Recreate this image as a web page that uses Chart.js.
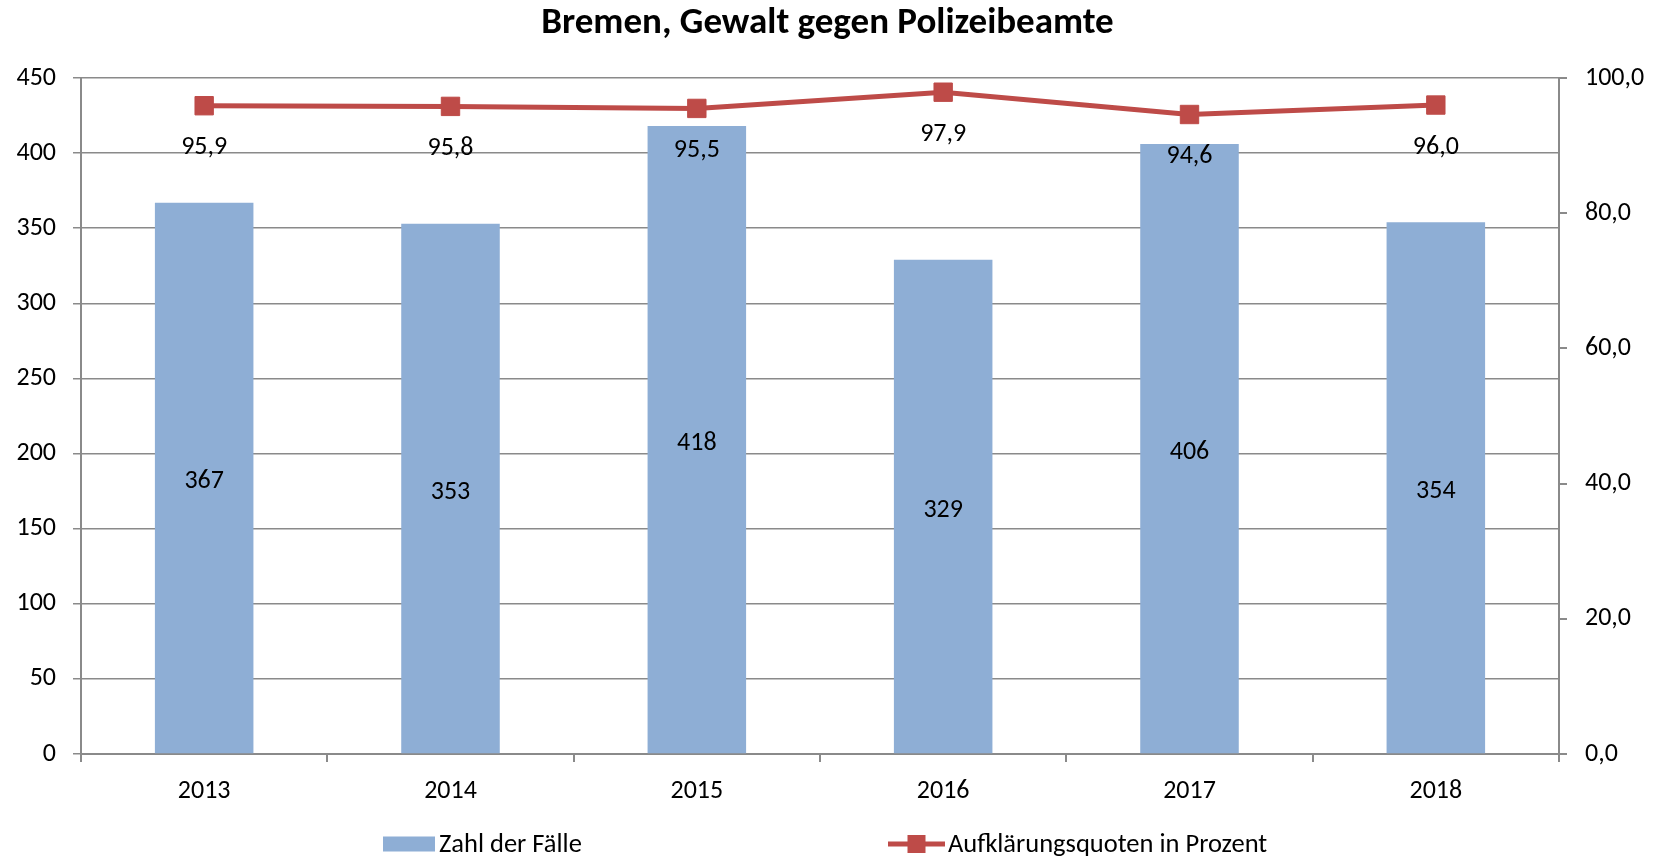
<!DOCTYPE html>
<html>
<head>
<meta charset="utf-8">
<script src="https://cdn.jsdelivr.net/npm/chart.js@4.4.1/dist/chart.umd.min.js"></script>
<style>
  html, body { margin: 0; padding: 0; background: #fff; }
  #wrap { width: 1655px; height: 858px; }
</style>
</head>
<body>
<div id="wrap"><canvas id="chart"></canvas></div>
<script>
// Data
const years = ['2013', '2014', '2015', '2016', '2017', '2018'];
const cases = [367, 353, 418, 329, 406, 354];
const clearanceRate = [95.9, 95.8, 95.5, 97.9, 94.6, 96.0];
const caseLabel = 'Zahl der Fälle';
const rateLabel = 'Aufklärungsquoten in Prozent';

// Styling
const fontFamily = "Carlito, Lato, 'Open Sans', sans-serif";
const fontSize = 26;
const barColor = '#8EAED5';
const lineColor = '#BE4B48';
const gridColor = '#8A8A8A';
const textColor = '#000000';

const deComma = (v, d) => v.toFixed(d).replace('.', ',');

// Value labels: in the middle of bars, below the line points
const valueLabels = {
    id: 'valueLabels',
    afterDatasetsDraw(chart) {
        const ctx = chart.ctx;
        ctx.save();
        ctx.font = fontSize + 'px ' + fontFamily;
        ctx.fillStyle = textColor;
        ctx.textAlign = 'center';
        ctx.textBaseline = 'middle';
        chart.data.datasets.forEach((ds, i) => {
            const meta = chart.getDatasetMeta(i);
            meta.data.forEach((el, j) => {
                if (ds.type === 'bar') {
                    ctx.fillText(String(ds.data[j]), el.x, (el.y + el.base) / 2 + 4);
                } else {
                    ctx.fillText(deComma(ds.data[j], 1), el.x, el.y + 42);
                }
            });
        });
        ctx.restore();
    }
};

// Legend drawn by hand so the line entry shows line + marker like the original
const bottomLegend = {
    id: 'bottomLegend',
    afterDraw(chart) {
        const ctx = chart.ctx;
        const y = chart.height - 14;
        ctx.save();
        ctx.font = '26.5px ' + fontFamily;
        ctx.textBaseline = 'middle';
        ctx.textAlign = 'left';

        ctx.fillStyle = barColor;
        ctx.fillRect(383, y - 7.5, 52, 15);
        ctx.fillStyle = textColor;
        ctx.fillText(caseLabel, 439, y + 1);

        ctx.strokeStyle = lineColor;
        ctx.lineWidth = 5;
        ctx.beginPath();
        ctx.moveTo(888, y);
        ctx.lineTo(945, y);
        ctx.stroke();
        ctx.fillStyle = lineColor;
        ctx.fillRect(916.5 - 9, y - 9, 18, 18);
        ctx.fillStyle = textColor;
        ctx.fillText(rateLabel, 948, y + 1);
        ctx.restore();
    }
};

Chart.defaults.font.family = fontFamily;
Chart.defaults.color = textColor;

new Chart(document.getElementById('chart').getContext('2d'), {
    data: {
        labels: years,
        datasets: [
            {
                type: 'line',
                label: rateLabel,
                data: clearanceRate,
                borderColor: lineColor,
                backgroundColor: lineColor,
                borderWidth: 5,
                pointStyle: 'rect',
                pointRadius: 13,
                pointHoverRadius: 13,
                pointBorderWidth: 1,
                tension: 0,
                yAxisID: 'y1',
                order: 0
            },
            {
                type: 'bar',
                label: caseLabel,
                data: cases,
                backgroundColor: barColor,
                categoryPercentage: 0.4,
                barPercentage: 1,
                yAxisID: 'y',
                order: 1
            }
        ]
    },
    options: {
        responsive: true,
        maintainAspectRatio: false,
        animation: false,
        events: [],
        layout: { padding: 0 },
        plugins: {
            legend: { display: false },
            tooltip: { enabled: false },
            title: {
                display: true,
                text: 'Bremen, Gewalt gegen Polizeibeamte',
                color: textColor,
                font: { size: 37, weight: 'bold', lineHeight: 1.2 },
                padding: { top: 1.5, bottom: 32.1 }
            }
        },
        scales: {
            x: {
                offset: true,
                grid: { display: true, drawOnChartArea: false, drawTicks: true, tickLength: 8, color: gridColor, lineWidth: 2, offset: true },
                border: { color: gridColor, width: 2 },
                ticks: { font: { size: fontSize }, padding: 14, color: textColor, maxRotation: 0 },
                afterFit: s => { s.height = 104; }
            },
            y: {
                position: 'left',
                min: 0,
                max: 450,
                ticks: { stepSize: 50, font: { size: fontSize }, padding: 17, color: textColor },
                grid: { color: gridColor, lineWidth: 1.5, tickLength: 8 },
                border: { color: gridColor, width: 2 },
                afterFit: s => { s.width = 81; }
            },
            y1: {
                position: 'right',
                min: 0,
                max: 100,
                ticks: { stepSize: 20, font: { size: fontSize }, padding: 18, color: textColor, callback: v => deComma(v, 1) },
                grid: { drawOnChartArea: false, color: gridColor, lineWidth: 2, tickLength: 8 },
                border: { color: gridColor, width: 2 },
                afterFit: s => { s.width = 96; }
            }
        }
    },
    plugins: [valueLabels, bottomLegend]
});
</script>
</body>
</html>
